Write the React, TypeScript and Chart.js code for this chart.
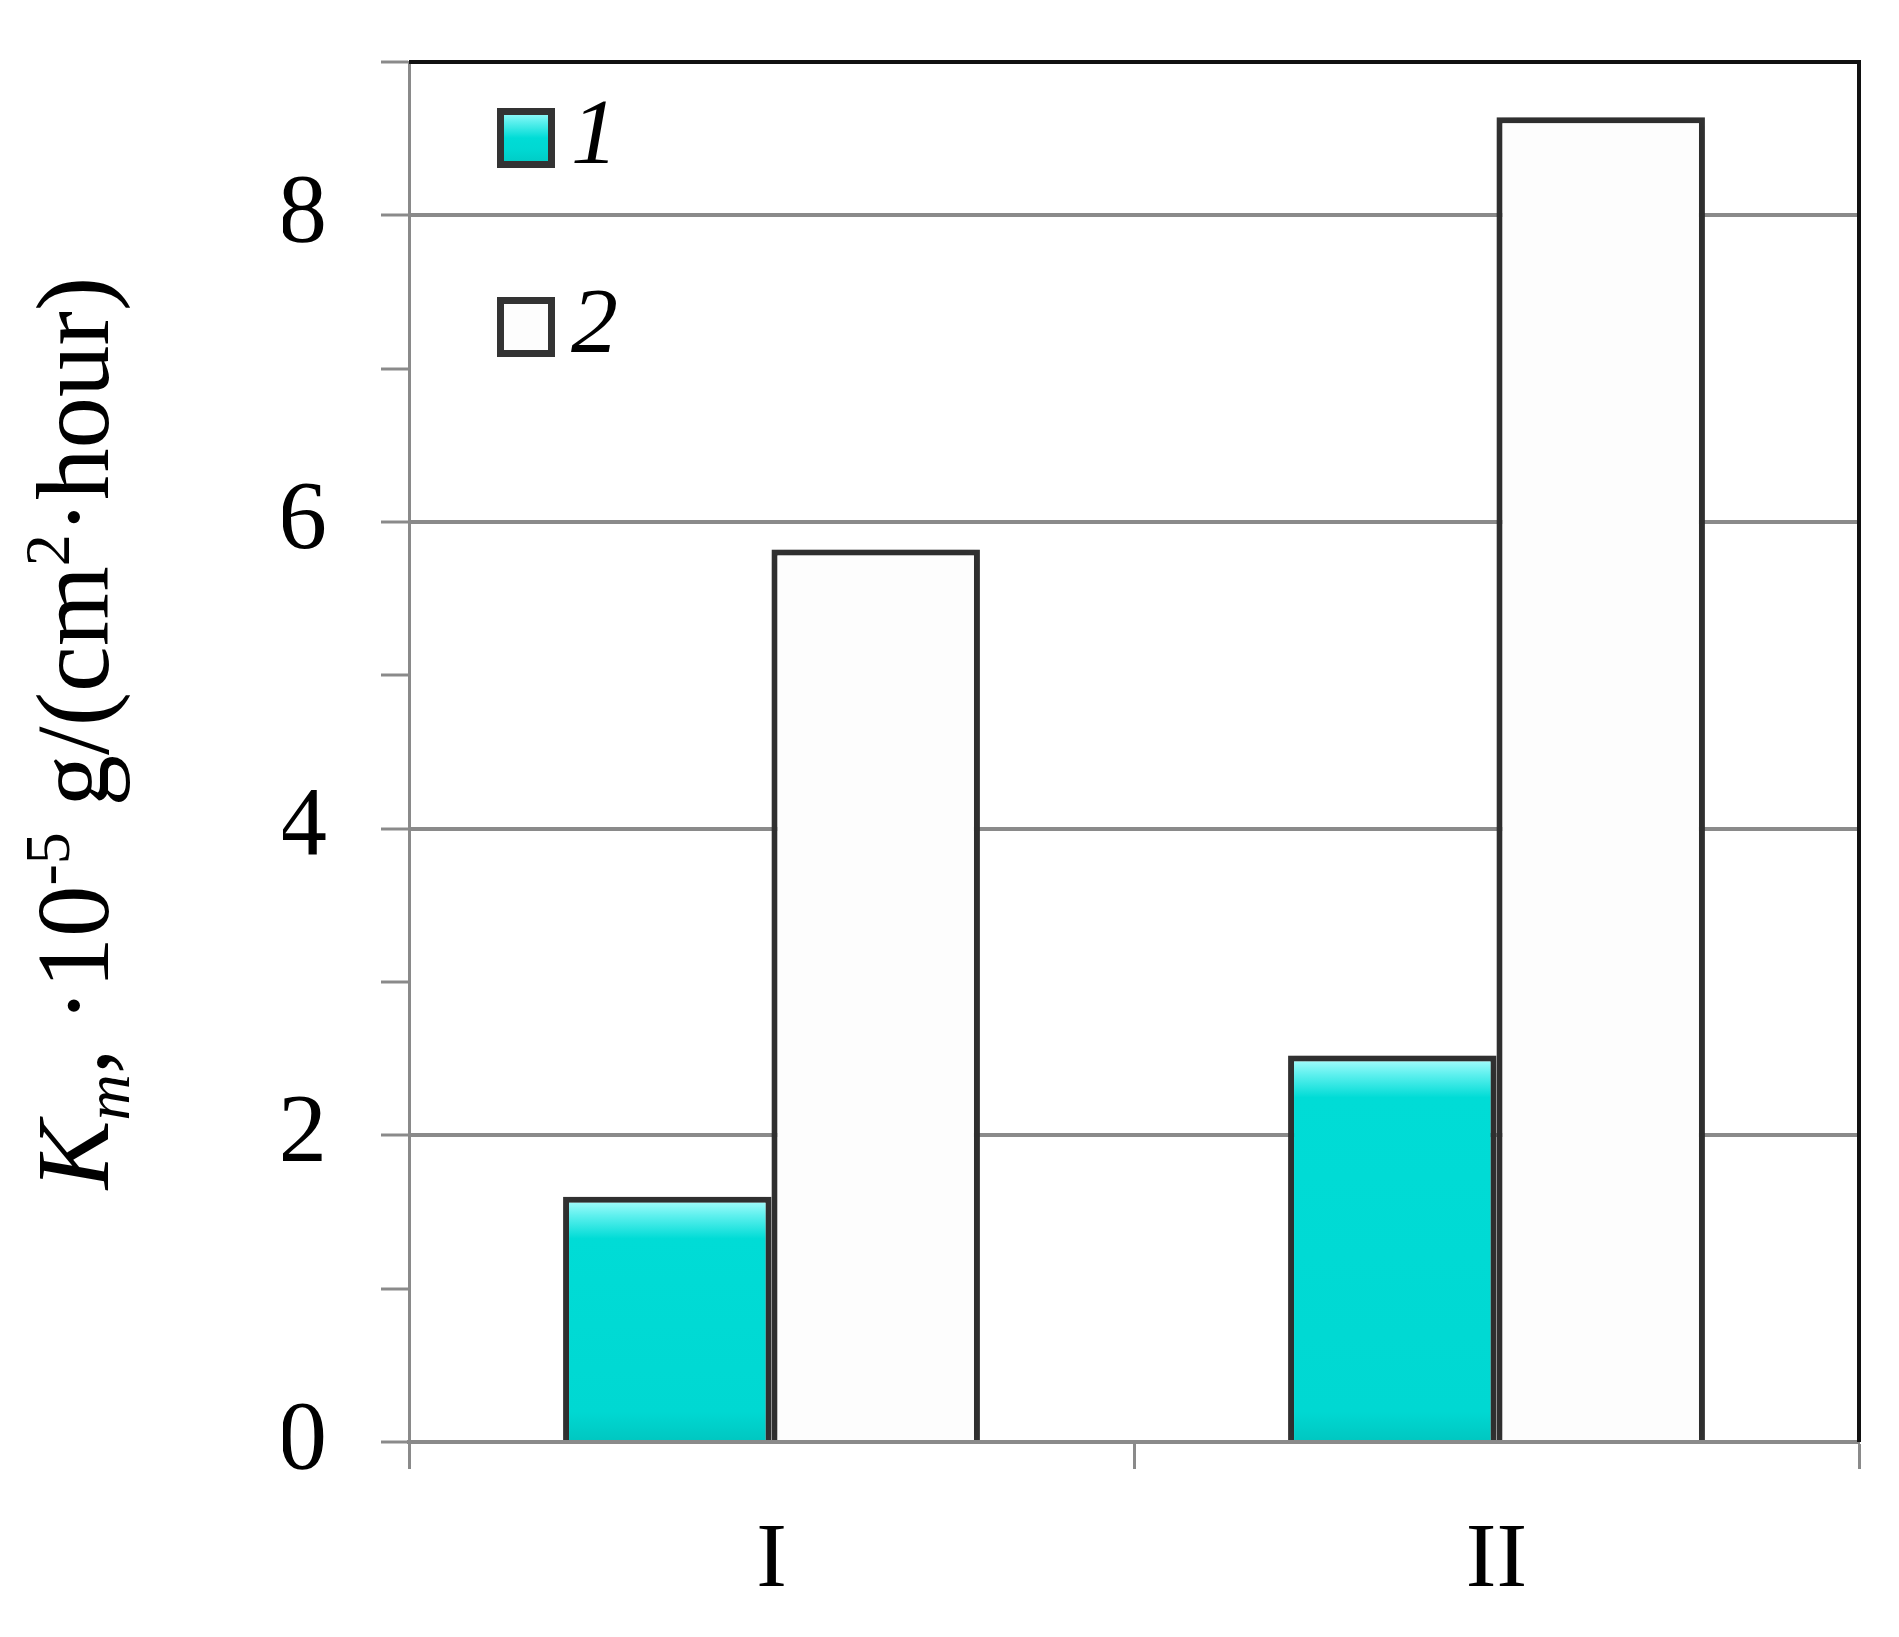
import { useEffect, useRef } from 'react'
import { Chart, registerables } from 'chart.js'

Chart.register(...registerables)

const categories = ['I', 'II']
const seriesLabels = ['1', '2']
const series1 = [1.6, 2.52]
const series2 = [5.82, 8.64]
const yMax = 9

const SERIF = "'Liberation Serif', 'Times New Roman', serif"
const CYAN = '#00dad4'
const GRID = '#8a8a8a'
const EDGE = '#333333'
const WIDTH = 1899
const HEIGHT = 1637

// pieces of the y-axis title: shift -1 = subscript, 1 = superscript
const titleParts = [
  { text: 'K', italic: true, shift: 0 },
  { text: 'm', italic: true, shift: -1 },
  { text: ', ·10', italic: false, shift: 0 },
  { text: '-5', italic: false, shift: 1 },
  { text: ' g/(cm', italic: false, shift: 0 },
  { text: '2', italic: false, shift: 1 },
  { text: '·hour)', italic: false, shift: 0 },
]

function cyanFill(ctx: CanvasRenderingContext2D, top: number, bottom: number) {
  const h = Math.max(bottom - top, 1)
  const f = Math.min(42 / h, 0.5)
  const g = ctx.createLinearGradient(0, top, 0, bottom)
  g.addColorStop(0, '#b8ffff')
  g.addColorStop(f * 0.45, '#5ef0ee')
  g.addColorStop(f, '#00dcd6')
  g.addColorStop(1 - Math.min(30 / h, 0.3), '#00d8d2')
  g.addColorStop(1, '#00c6c0')
  return g
}

const extrasPlugin = {
  id: 'extras',
  beforeDatasetsDraw(chart: any) {
    const c = chart.ctx
    c.save()
    c.shadowColor = 'rgba(0,0,0,0.22)'
    c.shadowBlur = 16
  },
  afterDatasetsDraw(chart: any) {
    chart.ctx.restore()
  },
  afterDraw(chart: any) {
    const { ctx, chartArea: a } = chart

    // black top and right frame
    ctx.save()
    ctx.strokeStyle = '#111'
    ctx.lineWidth = 4
    ctx.beginPath()
    ctx.moveTo(a.left, a.top)
    ctx.lineTo(a.right, a.top)
    ctx.lineTo(a.right, a.bottom)
    ctx.stroke()

    // legend inside the plot, top-left
    chart.data.datasets.forEach((ds: any, i: number) => {
      const x = a.left + 88
      const y = a.top + 46 + i * 189
      const w = 58
      const h = 60
      ctx.fillStyle = i === 0 ? cyanFill(ctx, y, y + h) : '#fdfdfd'
      ctx.fillRect(x, y, w, h)
      ctx.lineWidth = 7
      ctx.strokeStyle = EDGE
      ctx.strokeRect(x + 3.5, y + 3.5, w - 7, h - 7)
      ctx.fillStyle = '#000'
      ctx.font = `italic 94px ${SERIF}`
      ctx.textAlign = 'left'
      ctx.textBaseline = 'middle'
      ctx.fillText(ds.label, x + w + 16, y + h / 2)
    })

    // rotated y-axis title with sub/superscripts
    const size = 103
    const fontOf = (p: any) => `${p.italic ? 'italic ' : ''}${p.shift ? Math.round(size * 0.62) : size}px ${SERIF}`
    ctx.translate(108, 733)
    ctx.rotate(-Math.PI / 2)
    let total = 0
    titleParts.forEach((p) => {
      ctx.font = fontOf(p)
      total += ctx.measureText(p.text).width
    })
    let x = -total / 2
    ctx.fillStyle = '#000'
    ctx.textAlign = 'left'
    ctx.textBaseline = 'alphabetic'
    titleParts.forEach((p) => {
      ctx.font = fontOf(p)
      const dy = p.shift > 0 ? -size * 0.38 : p.shift < 0 ? size * 0.2 : 0
      ctx.fillText(p.text, x, dy)
      x += ctx.measureText(p.text).width
    })
    ctx.restore()
  },
}

const App = () => {
  const canvasRef = useRef<HTMLCanvasElement>(null)
  const chartRef = useRef<Chart | null>(null)

  useEffect(() => {
    document.body.style.margin = '0'
    chartRef.current?.destroy()
    if (!canvasRef.current) return

    const barFill = (c: any) => {
      const chart = c.chart
      if (c.type !== 'data' || !chart.chartArea) return CYAN
      const y = chart.scales.y
      return cyanFill(chart.ctx, y.getPixelForValue(c.parsed.y), y.getPixelForValue(0))
    }

    chartRef.current = new Chart(canvasRef.current, {
      type: 'bar',
      data: {
        labels: categories,
        datasets: [
          {
            label: seriesLabels[0],
            data: series1,
            backgroundColor: barFill,
            borderColor: EDGE,
            borderWidth: 6,
            borderSkipped: 'bottom',
            categoryPercentage: 0.575,
            barPercentage: 1,
          },
          {
            label: seriesLabels[1],
            data: series2,
            backgroundColor: '#fdfdfd',
            borderColor: EDGE,
            borderWidth: 6,
            borderSkipped: 'bottom',
            categoryPercentage: 0.575,
            barPercentage: 1,
          },
        ],
      },
      options: {
        responsive: false,
        devicePixelRatio: 1,
        animation: false,
        layout: { autoPadding: false, padding: { left: 283, right: 40, top: 62, bottom: 0 } },
        plugins: {
          legend: { display: false },
          tooltip: { enabled: false },
        },
        scales: {
          x: {
            offset: true,
            afterFit: (scale: any) => {
              scale.height = 195
              scale.paddingLeft = 0
              scale.paddingRight = 0
            },
            grid: {
              offset: true,
              drawOnChartArea: false,
              drawTicks: true,
              tickLength: 27,
              tickColor: GRID,
              tickWidth: 3,
              color: GRID,
            },
            border: { color: GRID, width: 4 },
            ticks: { padding: 38, color: '#000', font: { family: SERIF, size: 92 } },
          },
          y: {
            min: 0,
            max: yMax,
            afterFit: (scale: any) => {
              scale.width = 126
              scale.paddingTop = 0
              scale.paddingBottom = 0
            },
            ticks: {
              stepSize: 1,
              padding: 54,
              color: '#000',
              font: { family: SERIF, size: 98 },
              callback: (v: any) => (Number(v) % 2 === 0 ? String(v) : ''),
            },
            grid: {
              color: (c: any) =>
                c.tick && c.tick.value % 2 === 0 && c.tick.value < yMax ? GRID : 'rgba(0,0,0,0)',
              lineWidth: 4,
              tickColor: GRID,
              tickLength: 28,
              tickWidth: 3,
            },
            border: { color: GRID, width: 3 },
          },
        },
      },
      plugins: [extrasPlugin],
    })

    return () => {
      chartRef.current?.destroy()
      chartRef.current = null
    }
  }, [])

  return (
    <div style={{ width: WIDTH, height: HEIGHT, background: '#fff' }}>
      <canvas ref={canvasRef} width={WIDTH} height={HEIGHT} />
    </div>
  )
}

export default App
